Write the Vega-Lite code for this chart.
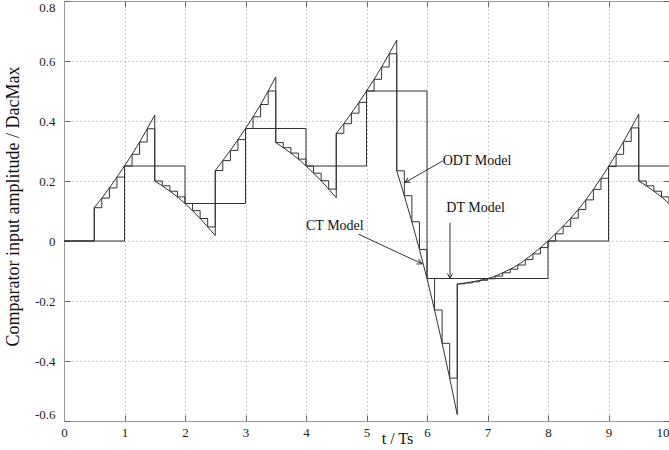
{
  "$schema": "https://vega.github.io/schema/vega-lite/v6.json",
  "width": 605,
  "height": 420,
  "autosize": {"type": "none"},
  "padding": {"left": 64, "top": 1, "right": 0, "bottom": 29},
  "background": "white",
  "config": {
    "font": "Liberation Serif",
    "view": {"stroke": null},
    "axis": {
      "domainColor": "#999999",
      "tickColor": "#666666",
      "tickSize": -6,
      "gridColor": "#999999",
      "gridDash": [1, 3],
      "labelFont": "Liberation Serif",
      "labelFontSize": 13,
      "labelColor": "#222222",
      "titleFont": "Liberation Serif",
      "titleFontWeight": "normal",
      "titleColor": "#111111"
    }
  },
  "datasets": {
    "ct": [
      {"i": 0, "t": 0, "v": 0}, {"i": 1, "t": 0.5, "v": 0}, {"i": 2, "t": 0.5, "v": 0.111},
      {"i": 3, "t": 0.625, "v": 0.143}, {"i": 4, "t": 0.75, "v": 0.177}, {"i": 5, "t": 0.875, "v": 0.213},
      {"i": 6, "t": 1.0, "v": 0.25}, {"i": 7, "t": 1.125, "v": 0.289}, {"i": 8, "t": 1.25, "v": 0.33},
      {"i": 9, "t": 1.375, "v": 0.374}, {"i": 10, "t": 1.5, "v": 0.42}, {"i": 11, "t": 1.5, "v": 0.2},
      {"i": 12, "t": 1.625, "v": 0.184}, {"i": 13, "t": 1.75, "v": 0.166}, {"i": 14, "t": 1.875, "v": 0.147},
      {"i": 15, "t": 2.0, "v": 0.125}, {"i": 16, "t": 2.125, "v": 0.101}, {"i": 17, "t": 2.25, "v": 0.075},
      {"i": 18, "t": 2.375, "v": 0.047}, {"i": 19, "t": 2.5, "v": 0.018}, {"i": 20, "t": 2.5, "v": 0.235},
      {"i": 21, "t": 2.625, "v": 0.268}, {"i": 22, "t": 2.75, "v": 0.302}, {"i": 23, "t": 2.875, "v": 0.338},
      {"i": 24, "t": 3.0, "v": 0.375}, {"i": 25, "t": 3.125, "v": 0.414}, {"i": 26, "t": 3.25, "v": 0.455},
      {"i": 27, "t": 3.375, "v": 0.5}, {"i": 28, "t": 3.5, "v": 0.547}, {"i": 29, "t": 3.5, "v": 0.328},
      {"i": 30, "t": 3.625, "v": 0.311}, {"i": 31, "t": 3.75, "v": 0.293}, {"i": 32, "t": 3.875, "v": 0.273},
      {"i": 33, "t": 4.0, "v": 0.25}, {"i": 34, "t": 4.125, "v": 0.226}, {"i": 35, "t": 4.25, "v": 0.201},
      {"i": 36, "t": 4.375, "v": 0.173}, {"i": 37, "t": 4.5, "v": 0.144}, {"i": 38, "t": 4.5, "v": 0.359},
      {"i": 39, "t": 4.625, "v": 0.391}, {"i": 40, "t": 4.75, "v": 0.426}, {"i": 41, "t": 4.875, "v": 0.462},
      {"i": 42, "t": 5.0, "v": 0.5}, {"i": 43, "t": 5.125, "v": 0.539}, {"i": 44, "t": 5.25, "v": 0.58},
      {"i": 45, "t": 5.375, "v": 0.624}, {"i": 46, "t": 5.5, "v": 0.67}, {"i": 47, "t": 5.5, "v": 0.234},
      {"i": 48, "t": 5.625, "v": 0.151}, {"i": 49, "t": 5.75, "v": 0.064}, {"i": 50, "t": 5.875, "v": -0.028},
      {"i": 51, "t": 6.0, "v": -0.125}, {"i": 52, "t": 6.125, "v": -0.23}, {"i": 53, "t": 6.25, "v": -0.341},
      {"i": 54, "t": 6.375, "v": -0.457}, {"i": 55, "t": 6.5, "v": -0.579}, {"i": 56, "t": 6.5, "v": -0.143},
      {"i": 57, "t": 6.625, "v": -0.14}, {"i": 58, "t": 6.75, "v": -0.136}, {"i": 59, "t": 6.875, "v": -0.131},
      {"i": 60, "t": 7.0, "v": -0.126}, {"i": 61, "t": 7.125, "v": -0.117}, {"i": 62, "t": 7.25, "v": -0.106},
      {"i": 63, "t": 7.375, "v": -0.094}, {"i": 64, "t": 7.5, "v": -0.08}, {"i": 65, "t": 7.625, "v": -0.062},
      {"i": 66, "t": 7.75, "v": -0.043}, {"i": 67, "t": 7.875, "v": -0.022}, {"i": 68, "t": 8.0, "v": 0.0},
      {"i": 69, "t": 8.125, "v": 0.024}, {"i": 70, "t": 8.25, "v": 0.049}, {"i": 71, "t": 8.375, "v": 0.076},
      {"i": 72, "t": 8.5, "v": 0.105}, {"i": 73, "t": 8.625, "v": 0.137}, {"i": 74, "t": 8.75, "v": 0.172},
      {"i": 75, "t": 8.875, "v": 0.209}, {"i": 76, "t": 9.0, "v": 0.248}, {"i": 77, "t": 9.125, "v": 0.289},
      {"i": 78, "t": 9.25, "v": 0.332}, {"i": 79, "t": 9.375, "v": 0.377}, {"i": 80, "t": 9.5, "v": 0.423},
      {"i": 81, "t": 9.5, "v": 0.2}, {"i": 82, "t": 9.625, "v": 0.184}, {"i": 83, "t": 9.75, "v": 0.166},
      {"i": 84, "t": 9.875, "v": 0.147}, {"i": 85, "t": 10.0, "v": 0.125}
    ],
    "odt": [
      {"t": 0, "v": 0}, {"t": 0.125, "v": 0}, {"t": 0.25, "v": 0}, {"t": 0.375, "v": 0},
      {"t": 0.5, "v": 0.111}, {"t": 0.625, "v": 0.143}, {"t": 0.75, "v": 0.177}, {"t": 0.875, "v": 0.213},
      {"t": 1.0, "v": 0.25}, {"t": 1.125, "v": 0.289}, {"t": 1.25, "v": 0.33}, {"t": 1.375, "v": 0.374},
      {"t": 1.5, "v": 0.2}, {"t": 1.625, "v": 0.184}, {"t": 1.75, "v": 0.166}, {"t": 1.875, "v": 0.147},
      {"t": 2.0, "v": 0.125}, {"t": 2.125, "v": 0.101}, {"t": 2.25, "v": 0.075}, {"t": 2.375, "v": 0.047},
      {"t": 2.5, "v": 0.235}, {"t": 2.625, "v": 0.268}, {"t": 2.75, "v": 0.302}, {"t": 2.875, "v": 0.338},
      {"t": 3.0, "v": 0.375}, {"t": 3.125, "v": 0.414}, {"t": 3.25, "v": 0.455}, {"t": 3.375, "v": 0.5},
      {"t": 3.5, "v": 0.328}, {"t": 3.625, "v": 0.311}, {"t": 3.75, "v": 0.293}, {"t": 3.875, "v": 0.273},
      {"t": 4.0, "v": 0.25}, {"t": 4.125, "v": 0.226}, {"t": 4.25, "v": 0.201}, {"t": 4.375, "v": 0.173},
      {"t": 4.5, "v": 0.359}, {"t": 4.625, "v": 0.391}, {"t": 4.75, "v": 0.426}, {"t": 4.875, "v": 0.462},
      {"t": 5.0, "v": 0.5}, {"t": 5.125, "v": 0.539}, {"t": 5.25, "v": 0.58}, {"t": 5.375, "v": 0.624},
      {"t": 5.5, "v": 0.234}, {"t": 5.625, "v": 0.151}, {"t": 5.75, "v": 0.064}, {"t": 5.875, "v": -0.028},
      {"t": 6.0, "v": -0.125}, {"t": 6.125, "v": -0.23}, {"t": 6.25, "v": -0.341}, {"t": 6.375, "v": -0.457},
      {"t": 6.5, "v": -0.143}, {"t": 6.625, "v": -0.14}, {"t": 6.75, "v": -0.136}, {"t": 6.875, "v": -0.131},
      {"t": 7.0, "v": -0.126}, {"t": 7.125, "v": -0.117}, {"t": 7.25, "v": -0.106}, {"t": 7.375, "v": -0.094},
      {"t": 7.5, "v": -0.08}, {"t": 7.625, "v": -0.062}, {"t": 7.75, "v": -0.043}, {"t": 7.875, "v": -0.022},
      {"t": 8.0, "v": 0.0}, {"t": 8.125, "v": 0.024}, {"t": 8.25, "v": 0.049}, {"t": 8.375, "v": 0.076},
      {"t": 8.5, "v": 0.105}, {"t": 8.625, "v": 0.137}, {"t": 8.75, "v": 0.172}, {"t": 8.875, "v": 0.209},
      {"t": 9.0, "v": 0.248}, {"t": 9.125, "v": 0.289}, {"t": 9.25, "v": 0.332}, {"t": 9.375, "v": 0.377},
      {"t": 9.5, "v": 0.2}, {"t": 9.625, "v": 0.184}, {"t": 9.75, "v": 0.166}, {"t": 9.875, "v": 0.147},
      {"t": 10.0, "v": 0.125}
    ],
    "dt": [
      {"t": 0, "v": 0}, {"t": 1, "v": 0.25}, {"t": 2, "v": 0.125}, {"t": 3, "v": 0.375},
      {"t": 4, "v": 0.25}, {"t": 5, "v": 0.5}, {"t": 6, "v": -0.125}, {"t": 7, "v": -0.125},
      {"t": 8, "v": 0}, {"t": 9, "v": 0.25}, {"t": 10, "v": 0.25}
    ],
    "labels": [
      {"label": "ODT Model", "t": 6.26, "v": 0.267},
      {"label": "DT Model", "t": 6.32, "v": 0.111},
      {"label": "CT Model", "t": 4.0, "v": 0.05}
    ],
    "arrows": [
      {"name": "ODT", "t0": 6.26, "v0": 0.267, "t1": 5.636, "v1": 0.195},
      {"name": "DT", "t0": 6.38, "v0": 0.061, "t1": 6.38, "v1": -0.125},
      {"name": "CT", "t0": 4.865, "v0": 0.023, "t1": 5.917, "v1": -0.076}
    ]
  },
  "layer": [
    {
      "data": {"name": "ct"},
      "mark": {"type": "line", "color": "#333333", "strokeWidth": 1, "clip": true},
      "encoding": {
        "x": {
          "field": "t", "type": "quantitative",
          "scale": {"domain": [0, 10], "nice": false, "zero": false},
          "axis": {
            "orient": "bottom",
            "values": [0, 1, 2, 3, 4, 5, 6, 7, 8, 9, 10],
            "labelExpr": "'' + datum.value",
            "labelFont": "Liberation Serif",
            "labelFontSize": 13,
            "labelColor": "#222222",
            "labelFlush": false,
            "labelAlign": {"condition": {"test": "datum.value >= 10", "value": "right"}, "value": "center"},
            "labelPadding": 11,
            "grid": true,
            "gridDash": [1, 3],
            "gridColor": "#999999",
            "title": "t / Ts",
            "titleFont": "Liberation Serif",
            "titleFontSize": 16,
            "titleX": 333,
            "titleY": 22,
            "titleBaseline": "alphabetic",
            "titleAlign": "center"
          }
        },
        "y": {
          "field": "v", "type": "quantitative",
          "scale": {"domain": [-0.6, 0.8], "nice": false, "zero": false},
          "axis": {
            "orient": "left",
            "values": [-0.6, -0.4, -0.2, 0, 0.2, 0.4, 0.6, 0.8],
            "labelExpr": "'' + datum.value",
            "labelFont": "Liberation Serif",
            "labelFontSize": 13,
            "labelColor": "#222222",
            "labelFlush": true,
            "labelPadding": 15,
            "grid": true,
            "gridDash": [1, 3],
            "gridColor": "#999999",
            "title": "Comparator input amplitude / DacMax",
            "titleFont": "Liberation Serif",
            "titleFontSize": 18,
            "titleX": -46,
            "titleY": 205,
            "titleBaseline": "alphabetic",
            "titleAlign": "center"
          }
        },
        "order": {"field": "i", "type": "quantitative"}
      }
    },
    {
      "data": {"name": "dt"},
      "mark": {"type": "line", "color": "#333333", "strokeWidth": 1, "interpolate": "step-after", "clip": true},
      "encoding": {
        "x": {
          "field": "t", "type": "quantitative",
          "scale": {"domain": [0, 10], "nice": false, "zero": false},
          "axis": {"orient": "top", "values": [0, 1, 2, 3, 4, 5, 6, 7, 8, 9, 10], "labels": false, "grid": false, "title": null}
        },
        "y": {
          "field": "v", "type": "quantitative",
          "scale": {"domain": [-0.6, 0.8], "nice": false, "zero": false},
          "axis": {"orient": "right", "values": [-0.6, -0.4, -0.2, 0, 0.2, 0.4, 0.6, 0.8], "labels": false, "grid": false, "title": null}
        }
      }
    },
    {
      "data": {"name": "odt"},
      "mark": {"type": "line", "color": "#333333", "strokeWidth": 1, "interpolate": "step-after", "clip": true},
      "encoding": {
        "x": {"field": "t", "type": "quantitative", "scale": {"domain": [0, 10], "nice": false, "zero": false}, "axis": null},
        "y": {"field": "v", "type": "quantitative", "scale": {"domain": [-0.6, 0.8], "nice": false, "zero": false}, "axis": null}
      }
    },
    {
      "data": {"name": "arrows"},
      "mark": {"type": "rule", "color": "#333333", "strokeWidth": 1},
      "encoding": {
        "x": {"field": "t0", "type": "quantitative", "scale": {"domain": [0, 10], "nice": false, "zero": false}, "axis": null},
        "y": {"field": "v0", "type": "quantitative", "scale": {"domain": [-0.6, 0.8], "nice": false, "zero": false}, "axis": null},
        "x2": {"field": "t1"},
        "y2": {"field": "v1"}
      }
    },
    {
      "data": {"name": "arrows"},
      "transform": [{"filter": "datum.name === 'ODT'"}],
      "mark": {"type": "point", "shape": "M -1 -0.5 L 0 0 L -1 0.5", "filled": false, "stroke": "#333333", "strokeWidth": 1, "size": 100, "angle": 150, "opacity": 1},
      "encoding": {
        "x": {"field": "t1", "type": "quantitative", "scale": {"domain": [0, 10], "nice": false, "zero": false}, "axis": null},
        "y": {"field": "v1", "type": "quantitative", "scale": {"domain": [-0.6, 0.8], "nice": false, "zero": false}, "axis": null}
      }
    },
    {
      "data": {"name": "arrows"},
      "transform": [{"filter": "datum.name === 'DT'"}],
      "mark": {"type": "point", "shape": "M -1 -0.5 L 0 0 L -1 0.5", "filled": false, "stroke": "#333333", "strokeWidth": 1, "size": 100, "angle": 90, "opacity": 1},
      "encoding": {
        "x": {"field": "t1", "type": "quantitative", "scale": {"domain": [0, 10], "nice": false, "zero": false}, "axis": null},
        "y": {"field": "v1", "type": "quantitative", "scale": {"domain": [-0.6, 0.8], "nice": false, "zero": false}, "axis": null}
      }
    },
    {
      "data": {"name": "arrows"},
      "transform": [{"filter": "datum.name === 'CT'"}],
      "mark": {"type": "point", "shape": "M -1 -0.5 L 0 0 L -1 0.5", "filled": false, "stroke": "#333333", "strokeWidth": 1, "size": 100, "angle": 25, "opacity": 1},
      "encoding": {
        "x": {"field": "t1", "type": "quantitative", "scale": {"domain": [0, 10], "nice": false, "zero": false}, "axis": null},
        "y": {"field": "v1", "type": "quantitative", "scale": {"domain": [-0.6, 0.8], "nice": false, "zero": false}, "axis": null}
      }
    },
    {
      "data": {"name": "labels"},
      "mark": {"type": "text", "font": "Liberation Serif", "fontSize": 14, "align": "left", "baseline": "middle", "color": "#111111"},
      "encoding": {
        "x": {"field": "t", "type": "quantitative", "scale": {"domain": [0, 10], "nice": false, "zero": false}, "axis": null},
        "y": {"field": "v", "type": "quantitative", "scale": {"domain": [-0.6, 0.8], "nice": false, "zero": false}, "axis": null},
        "text": {"field": "label"}
      }
    }
  ],
  "resolve": {"axis": {"x": "independent", "y": "independent"}}
}
